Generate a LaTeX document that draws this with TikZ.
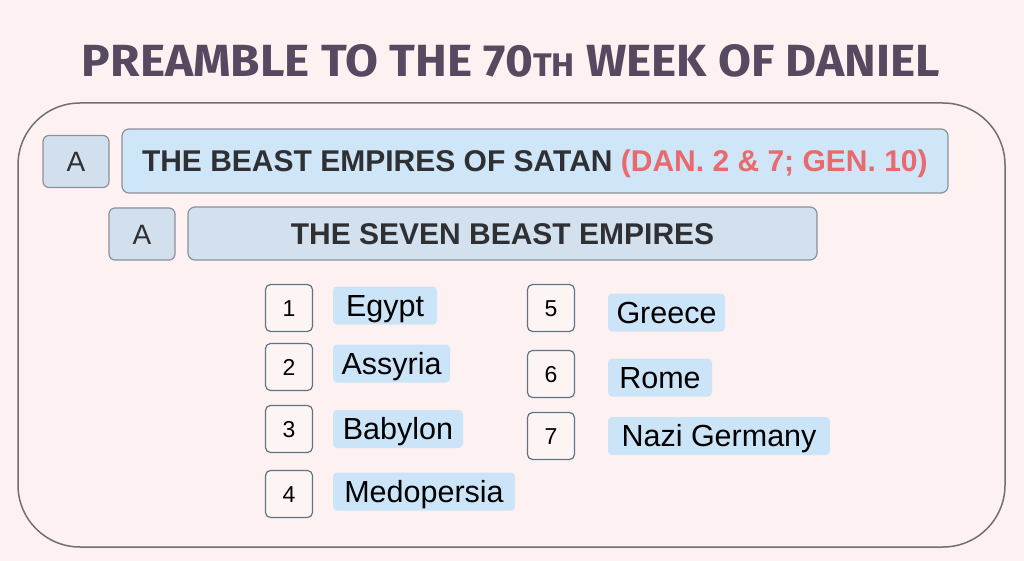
\documentclass[tikz,border=0pt]{standalone}
\usepackage{fontspec}
\setmainfont{Liberation Sans}
\newfontfamily\titlefont{Fira Sans}
\definecolor{bg}{HTML}{FDF2F1}
\definecolor{outerline}{HTML}{707070}
\definecolor{afill}{HTML}{D2E0EE}
\definecolor{boxline}{HTML}{8A9199}
\definecolor{hdrfill}{HTML}{CFE5F8}
\definecolor{subfill}{HTML}{D3E1EF}
\definecolor{numfill}{HTML}{FDF5F4}
\definecolor{numline}{HTML}{5D7587}
\definecolor{lblfill}{HTML}{CCE4F8}
\definecolor{dark}{HTML}{2F3033}
\definecolor{refred}{HTML}{E96A6C}
\definecolor{titlecol}{HTML}{574A60}
\begin{document}
\begin{tikzpicture}[x=1pt,y=-1pt,
  abox/.style={draw=boxline, fill=afill, line width=1.2pt, rounded corners=6pt, inner sep=0pt,
    minimum width=66pt, minimum height=52pt, text=dark, font=\fontsize{28}{32}\selectfont,
    text height=20pt, text depth=0pt},
  hdrbox/.style={draw=boxline, fill=hdrfill, line width=1.2pt, rounded corners=7pt, inner ysep=0pt,
    minimum height=64pt, text=dark, font=\fontsize{30}{36}\selectfont\bfseries,
    text height=21.5pt, text depth=0pt},
  subbox/.style={draw=boxline, fill=subfill, line width=1.2pt, rounded corners=7pt, inner sep=0pt,
    minimum height=53pt, text=dark, font=\fontsize{30}{36}\selectfont\bfseries,
    text height=21.5pt, text depth=0pt},
  numbox/.style={draw=numline, fill=numfill, line width=1.2pt, rounded corners=5pt, inner sep=0pt,
    minimum width=47pt, minimum height=47pt, text=black, font=\fontsize{23}{27}\selectfont,
    text height=16.5pt, text depth=0pt},
  lbl/.style={fill=lblfill, rounded corners=4pt, inner sep=0pt, minimum height=38pt,
    text=black, font=\fontsize{30.5}{36}\selectfont, text height=21.5pt, text depth=0pt}
]
\useasboundingbox[fill=bg] (0,0) rectangle (1024,561);
% title
\node[text=titlecol, inner sep=0pt] (title) at (511,61)
  {\resizebox{858pt}{32pt}{\titlefont\bfseries\fontsize{40}{48}\selectfont PREAMBLE TO THE 70{\fontsize{29}{34}\selectfont TH} WEEK OF DANIEL}};
% outer frame
\draw[outerline, line width=1.5pt, fill=bg, rounded corners=62pt] (18,103) rectangle (1005,547);
% header rows
\node[abox] (a1) at (76,161.5) {A};
\node[hdrbox, inner xsep=20pt] (hdr) at (535,161)
  {\makebox[786pt][l]{THE BEAST EMPIRES OF SATAN \textcolor{refred}{(DAN. 2 \& 7; GEN. 10)}}};
\node[abox] (a2) at (142,234) {A};
\node[subbox, minimum width=629pt] (sub) at (502.5,233.5) {THE SEVEN BEAST EMPIRES};
% numbered list, left column
\node[numbox] (n1) at (289,308) {1};
\node[numbox] (n2) at (289,367) {2};
\node[numbox] (n3) at (289,429) {3};
\node[numbox] (n4) at (289,494) {4};
\node[lbl, minimum width=104pt] (l1) at (385,305.5) {Egypt};
\node[lbl, minimum width=117pt] (l2) at (391.5,363.5) {Assyria};
\node[lbl, minimum width=130pt] (l3) at (398,429) {Babylon};
\node[lbl, minimum width=182pt] (l4) at (424,491.5) {Medopersia};
% right column
\node[numbox] (n5) at (551,308) {5};
\node[numbox] (n6) at (551,374) {6};
\node[numbox] (n7) at (551,436) {7};
\node[lbl, minimum width=117pt] (l5) at (666.5,312.5) {Greece};
\node[lbl, minimum width=104pt] (l6) at (660,377.5) {Rome};
\node[lbl, minimum width=222pt] (l7) at (719,436) {Nazi Germany};
\end{tikzpicture}
\end{document}
